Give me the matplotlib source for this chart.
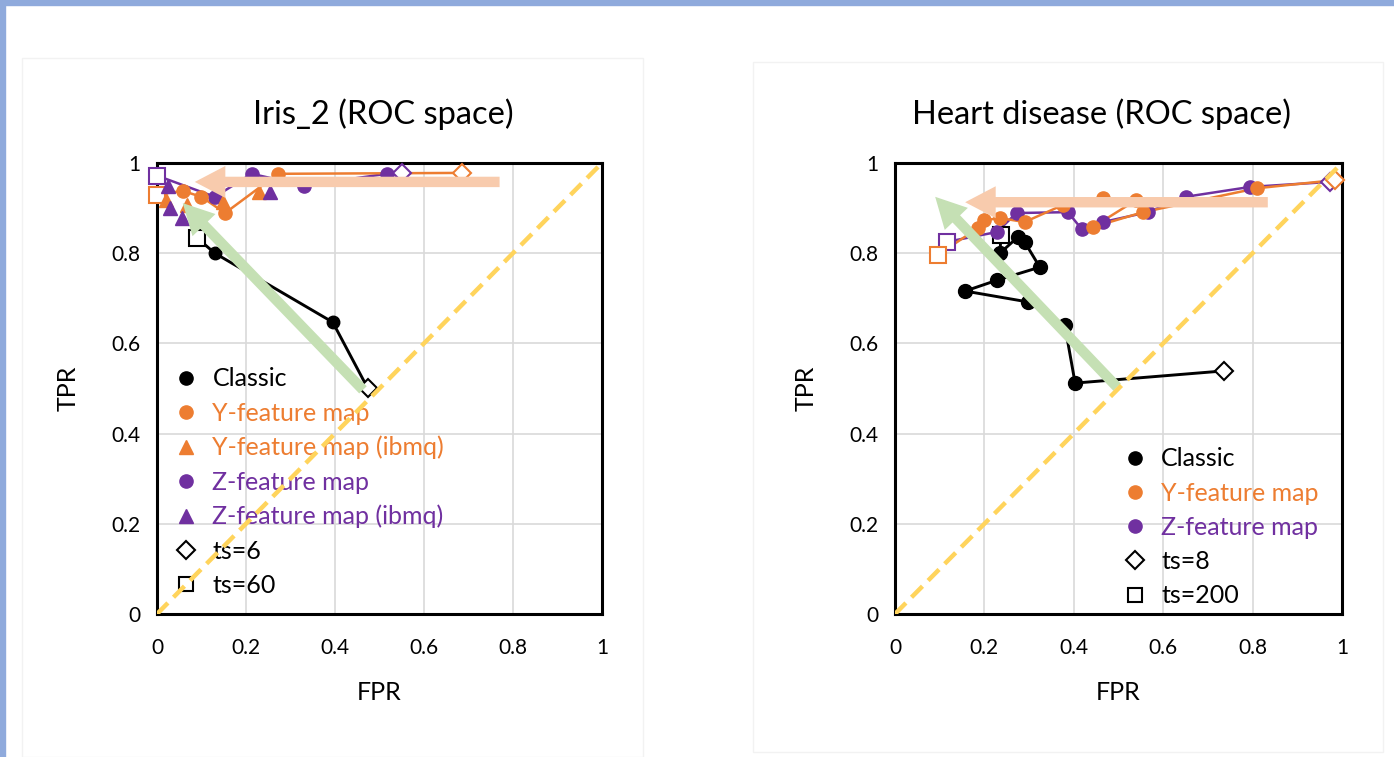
import matplotlib
matplotlib.use("Agg")
import matplotlib.pyplot as plt
from matplotlib.patches import FancyArrowPatch, Rectangle
from matplotlib.lines import Line2D

plt.rcParams['font.family'] = ['Lato', 'DejaVu Sans']

ORANGE = '#ED7D31'
PURPLE = '#7030A0'
PEACH = '#F8CBAD'
GREEN = '#C5E0B4'
YELLOW = '#FFD45C'

# --- Iris_2 (first point = ts=6, last point = ts=60)
iris_classic_fpr = [0.474, 0.395, 0.13, 0.09]
iris_classic_tpr = [0.50, 0.647, 0.80, 0.834]
iris_y_fpr = [0.685, 0.272, 0.153, 0.10, 0.058, 0.0]
iris_y_tpr = [0.978, 0.976, 0.889, 0.925, 0.938, 0.93]
iris_y_ibmq_fpr = [0.02, 0.067, 0.148, 0.23]
iris_y_ibmq_tpr = [0.918, 0.907, 0.913, 0.935]
iris_z_fpr = [0.55, 0.517, 0.33, 0.213, 0.13, 0.0]
iris_z_tpr = [0.978, 0.976, 0.95, 0.976, 0.925, 0.972]
iris_z_ibmq_fpr = [0.025, 0.03, 0.056, 0.254]
iris_z_ibmq_tpr = [0.948, 0.90, 0.877, 0.935]

# --- Heart disease (first point = ts=8, last point = ts=200)
heart_classic_fpr = [0.736, 0.403, 0.38, 0.297, 0.157, 0.228, 0.324, 0.29, 0.275, 0.235, 0.237]
heart_classic_tpr = [0.539, 0.512, 0.64, 0.692, 0.716, 0.74, 0.769, 0.825, 0.836, 0.80, 0.84]
heart_y_fpr = [0.984, 0.81, 0.555, 0.443, 0.54, 0.465, 0.376, 0.29, 0.235, 0.2, 0.186, 0.096]
heart_y_tpr = [0.962, 0.944, 0.891, 0.858, 0.918, 0.922, 0.907, 0.869, 0.878, 0.873, 0.856, 0.796]
heart_z_fpr = [0.973, 0.795, 0.65, 0.566, 0.465, 0.418, 0.387, 0.272, 0.228, 0.116]
heart_z_tpr = [0.958, 0.947, 0.925, 0.891, 0.869, 0.853, 0.891, 0.889, 0.847, 0.825]

ticks = [0, 0.2, 0.4, 0.6, 0.8, 1]
tick_labels = ['0', '0.2', '0.4', '0.6', '0.8', '1']


def draw_series(ax, fpr, tpr, color, ms=9.5, lw=1.8):
    ax.plot(fpr, tpr, color=color, lw=lw, zorder=3)
    ax.plot(fpr[1:-1], tpr[1:-1], 'o', color=color, ms=ms, zorder=4)
    ax.plot(fpr[0], tpr[0], 'D', mfc='white', mec=color, mew=1.5, ms=9, zorder=4, clip_on=False)
    ax.plot(fpr[-1], tpr[-1], 's', mfc='white', mec=color, mew=1.5, ms=11.5, zorder=4, clip_on=False)


def arrow(ax, tail, tip, color):
    a = FancyArrowPatch(tail, tip, arrowstyle='simple,head_length=22,head_width=23,tail_width=7.5',
                        mutation_scale=1, color=color, lw=0, shrinkA=0, shrinkB=0, zorder=6)
    ax.add_patch(a)


def style_axes(ax, title, title_x):
    ax.set_xlim(0, 1)
    ax.set_ylim(0, 1)
    ax.set_xticks(ticks)
    ax.set_yticks(ticks)
    ax.set_xticklabels(tick_labels)
    ax.set_yticklabels(tick_labels)
    ax.tick_params(length=0, labelsize=15)
    ax.tick_params(axis='x', pad=17)
    ax.tick_params(axis='y', pad=12)
    ax.grid(True, color='#d9d9d9', lw=1.2, zorder=0)
    ax.set_axisbelow(True)
    for s in ax.spines.values():
        s.set_linewidth(2.2)
        s.set_color('black')
    ax.set_xlabel('FPR', fontsize=18, labelpad=17)
    ax.set_ylabel('TPR', fontsize=18, labelpad=23)
    ax.set_title(title, fontsize=23.5, pad=28, x=title_x)
    ax.plot([0, 1], [0, 1], color=YELLOW, lw=3.2, ls=(0, (3.5, 1.8)), zorder=7)


fig = plt.figure(figsize=(13.94, 7.57), dpi=100)
fig.patches.append(Rectangle((0, 0.994), 1, 0.006, transform=fig.transFigure, color='#8FAADC', zorder=0))
fig.patches.append(Rectangle((0, 0), 0.0036, 1, transform=fig.transFigure, color='#8FAADC', zorder=0))
fig.patches.append(Rectangle((0.016, 0.0), 0.445, 0.923, transform=fig.transFigure, fill=False,
                             ec='#f2f2f2', lw=1, zorder=0))
fig.patches.append(Rectangle((0.54, 0.007), 0.452, 0.911, transform=fig.transFigure, fill=False,
                             ec='#f2f2f2', lw=1, zorder=0))

ax1 = fig.add_axes([0.1126, 0.1889, 0.3192, 0.5958])
ax2 = fig.add_axes([0.6420, 0.1889, 0.3207, 0.5958])

# Iris_2
style_axes(ax1, 'Iris_2 (ROC space)', 0.509)
draw_series(ax1, iris_classic_fpr, iris_classic_tpr, 'black', ms=9, lw=2.1)
draw_series(ax1, iris_z_fpr, iris_z_tpr, PURPLE)
draw_series(ax1, iris_y_fpr, iris_y_tpr, ORANGE)
ax1.plot(iris_y_ibmq_fpr, iris_y_ibmq_tpr, '^', color=ORANGE, ms=9.5, ls='none', zorder=4)
ax1.plot(iris_z_ibmq_fpr, iris_z_ibmq_tpr, '^', color=PURPLE, ms=9.5, ls='none', zorder=4)
arrow(ax1, (0.77, 0.958), (0.085, 0.958), PEACH)
arrow(ax1, (0.463, 0.497), (0.058, 0.911), GREEN)

h1 = [
    Line2D([], [], marker='o', color='black', ls='none', ms=9.5),
    Line2D([], [], marker='o', color=ORANGE, ls='none', ms=9.5),
    Line2D([], [], marker='^', color=ORANGE, ls='none', ms=9.5),
    Line2D([], [], marker='o', color=PURPLE, ls='none', ms=9.5),
    Line2D([], [], marker='^', color=PURPLE, ls='none', ms=9.5),
    Line2D([], [], marker='D', mfc='white', mec='black', mew=1.5, ls='none', ms=9),
    Line2D([], [], marker='s', mfc='white', mec='black', mew=1.5, ls='none', ms=10.5),
]
l1 = ax1.legend(h1, ['Classic', 'Y-feature map', 'Y-feature map (ibmq)', 'Z-feature map',
                     'Z-feature map (ibmq)', 'ts=6', 'ts=60'],
                loc='upper left', bbox_to_anchor=(0.0375, 0.547), frameon=False, fontsize=18,
                handlelength=1.0, handletextpad=0.55, labelspacing=0.45, borderpad=0, borderaxespad=0,
                labelcolor=['black', ORANGE, ORANGE, PURPLE, PURPLE, 'black', 'black'])
l1.set_zorder(2)

# Heart disease
style_axes(ax2, 'Heart disease (ROC space)', 0.461)
draw_series(ax2, heart_classic_fpr, heart_classic_tpr, 'black', ms=10, lw=2.1)
draw_series(ax2, heart_z_fpr, heart_z_tpr, PURPLE)
draw_series(ax2, heart_y_fpr, heart_y_tpr, ORANGE)
arrow(ax2, (0.834, 0.913), (0.157, 0.913), PEACH)
arrow(ax2, (0.497, 0.503), (0.09, 0.925), GREEN)

h2 = [
    Line2D([], [], marker='o', color='black', ls='none', ms=9.5),
    Line2D([], [], marker='o', color=ORANGE, ls='none', ms=9.5),
    Line2D([], [], marker='o', color=PURPLE, ls='none', ms=9.5),
    Line2D([], [], marker='D', mfc='white', mec='black', mew=1.5, ls='none', ms=9),
    Line2D([], [], marker='s', mfc='white', mec='black', mew=1.5, ls='none', ms=10.5),
]
l2 = ax2.legend(h2, ['Classic', 'Y-feature map', 'Z-feature map', 'ts=8', 'ts=200'],
                loc='upper left', bbox_to_anchor=(0.509, 0.3696), frameon=False, fontsize=18,
                handlelength=1.0, handletextpad=0.55, labelspacing=0.45, borderpad=0, borderaxespad=0,
                labelcolor=['black', ORANGE, PURPLE, 'black', 'black'])
l2.set_zorder(2)

fig.savefig('out.png', dpi=100)
